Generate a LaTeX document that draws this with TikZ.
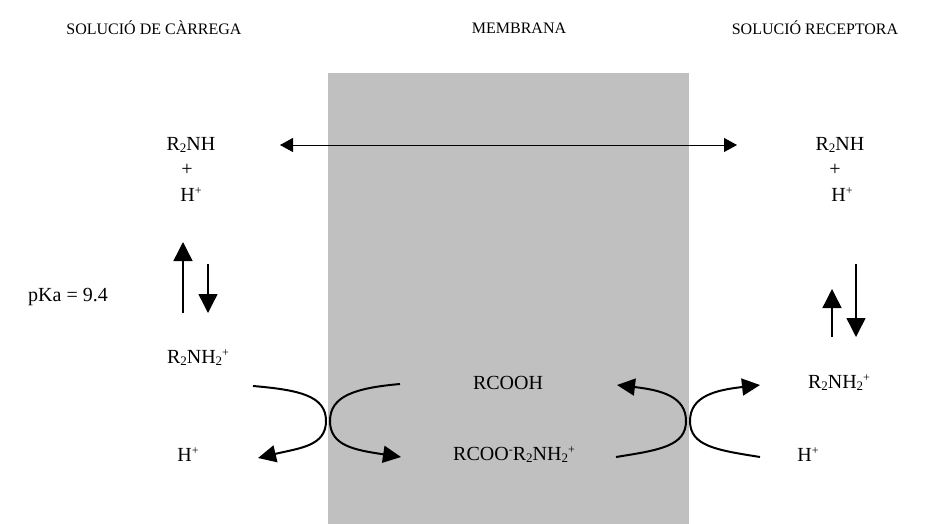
\documentclass[tikz,border=0pt]{standalone}
\usepackage{fontspec}
\setmainfont{Liberation Serif}
\usetikzlibrary{arrows.meta}
\newcommand\chemsub[1]{\raisebox{-0.25ex}{\fontsize{13}{13}\selectfont #1}}
\newcommand\chemsup[1]{\raisebox{0.75ex}{\fontsize{12}{12}\selectfont #1}}
\tikzset{
  lbl/.style={inner sep=0pt, font=\fontsize{20}{22}\selectfont},
  ttl/.style={inner sep=0pt, font=\fontsize{16}{18}\selectfont},
  eqarrow/.style={line width=1.4pt, -{Triangle[length=19pt,width=19pt]}},
  curv/.style={line width=2pt, -{Triangle[length=18pt,width=17pt]}},
  dbl/.style={line width=0.9pt, {Triangle[length=13pt,width=14pt]}-{Triangle[length=13pt,width=14pt]}}
}
\begin{document}
\begin{tikzpicture}[x=1pt,y=-1pt]
\useasboundingbox (0,0) rectangle (939,524);
\fill[fill={rgb,255:red,192;green,192;blue,192}] (328,73) rectangle (689,524);
% titles
\node[ttl] (t1) at (154,28) {SOLUCIÓ DE CÀRREGA};
\node[ttl] (t2) at (519,28) {MEMBRANA};
\node[ttl] (t3) at (815,28) {SOLUCIÓ RECEPTORA};
% left column
\node[lbl] (lA) at (191,145) {R\chemsub{2}NH};
\node[lbl] (lP) at (187,170) {+};
\node[lbl] (lH) at (191,195) {H\chemsup{+}};
\node[lbl] (pka) at (68,297) {pKa = 9.4};
\node[lbl] (lB) at (198,358) {R\chemsub{2}NH\chemsub{2}\chemsup{+}};
\node[lbl] (lH2) at (188,455) {H\chemsup{+}};
% right column
\node[lbl] (rA) at (840,145) {R\chemsub{2}NH};
\node[lbl] (rP) at (835,170) {+};
\node[lbl] (rH) at (842,195) {H\chemsup{+}};
\node[lbl] (rB) at (839,383) {R\chemsub{2}NH\chemsub{2}\chemsup{+}};
\node[lbl] (rH2) at (808,455) {H\chemsup{+}};
% membrane
\node[lbl] (mA) at (508,383) {RCOOH};
\node[lbl] (mB) at (514,455) {RCOO\chemsup{-}R\chemsub{2}NH\chemsub{2}\chemsup{+}};
% horizontal double arrow
\coordinate (hL) at (280,145);
\coordinate (hR) at (737,145);
\draw[dbl] (hL) -- (hR);
% left equilibrium arrows
\coordinate (lu1) at (183,313); \coordinate (lu2) at (183,242);
\coordinate (ld1) at (208,264); \coordinate (ld2) at (208,313);
\draw[eqarrow] (lu1) -- (lu2);
\draw[eqarrow] (ld1) -- (ld2);
% right equilibrium arrows
\coordinate (ru1) at (832,337); \coordinate (ru2) at (832,289);
\coordinate (rd1) at (856,264); \coordinate (rd2) at (856,337);
\draw[eqarrow] (ru1) -- (ru2);
\draw[eqarrow] (rd1) -- (rd2);
% curved arrows
\coordinate (c1s) at (253,386); \coordinate (c1m) at (326,421); \coordinate (c1e) at (258,458);
\draw[curv] (c1s) .. controls (300,390) and (326,396) .. (c1m) .. controls (326,446) and (300,448) .. (c1e);
\coordinate (c2s) at (400,384); \coordinate (c2m) at (330,421); \coordinate (c2e) at (401,457);
\draw[curv] (c2s) .. controls (355,388) and (330,396) .. (c2m) .. controls (330,446) and (355,450) .. (c2e);
\coordinate (c3s) at (616,457); \coordinate (c3m) at (686,421); \coordinate (c3e) at (617,385);
\draw[curv] (c3s) .. controls (660,450) and (686,446) .. (c3m) .. controls (686,396) and (660,390) .. (c3e);
\coordinate (c4s) at (760,457); \coordinate (c4m) at (690,421); \coordinate (c4e) at (760,385);
\draw[curv] (c4s) .. controls (716,450) and (690,446) .. (c4m) .. controls (690,396) and (716,390) .. (c4e);
\end{tikzpicture}
\end{document}
